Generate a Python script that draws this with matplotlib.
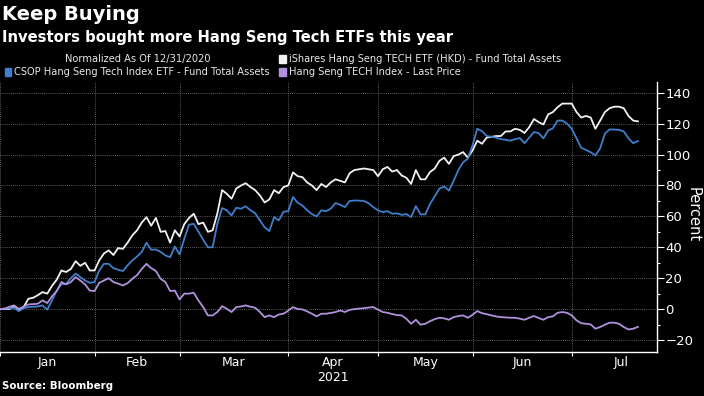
import numpy as np
import matplotlib.pyplot as plt
from matplotlib.patches import Rectangle

plt.rcParams['font.family'] = ['Liberation Sans Narrow', 'DejaVu Sans']

# x axis is in HK trading days since 12/31/2020
months = ['Jan', 'Feb', 'Mar', 'Apr\n2021', 'May', 'Jun', 'Jul']
month_start = [0, 20, 38, 61, 80, 100, 121, 142]

# iShares Hang Seng TECH ETF (HKD) - fund total assets, % change
ishares = [0, 0, 0, 2, 0, 1.3, 6.7, 7.3, 9, 11,
           10, 15, 19, 25, 24, 26, 31, 28, 30, 25,
           25, 31.5, 36, 38, 35, 39.5, 39, 43, 47.7, 51,
           56, 59.5, 54, 59, 50, 50.5, 43, 51, 47, 55,
           59, 61.7, 55, 56, 50, 51, 62, 77, 74.6, 71.4,
           78, 80, 81.5, 79, 77, 73.6, 69, 71, 77, 75,
           79, 80, 88.5, 86, 85.4, 82, 80, 77, 81, 79,
           82, 84, 83, 82, 88, 90, 90.5, 91, 90.5, 90,
           86, 90.5, 92, 89, 90, 86.5, 85, 81, 90, 84,
           84, 88.7, 91, 96, 98, 94, 99, 100, 101.6, 98,
           102.7, 109, 107, 111, 111.5, 112, 112, 115, 115, 116.7,
           116, 114, 117.8, 123, 121, 119.5, 126, 127.5, 130.7, 133,
           133, 133, 127.5, 124, 125, 124, 116.7, 122, 127.5, 130,
           131, 131, 130, 125, 122, 121.5]

# CSOP Hang Seng Tech Index ETF - fund total assets, % change
csop = [0, 0.3, 0.5, 0.6, -1.3, 0.6, 1.3, 1.5, 1.7, 2.4,
        -0.4, 5.6, 12, 16, 16.4, 20, 23, 20.7, 18.5, 17,
        17.5, 25, 29.3, 29.3, 26.5, 25.5, 24.6, 28.3, 31.5, 34,
        37, 43, 38.4, 38.6, 37, 34.7, 33.6, 40.5, 35.4, 45.5,
        54.6, 55.2, 50, 44.9, 40, 40, 55.2, 65.4, 63.9, 60.6,
        65.6, 65, 66.5, 64, 62, 57.4, 53, 50.5, 59.5, 57.4,
        63, 63.4, 72.5, 68.8, 67, 64, 61.5, 60, 63.9, 63.4,
        65, 68.6, 67.5, 66, 70, 70.3, 70.2, 70, 68.5, 66,
        63.9, 62.8, 63.4, 61.7, 62, 61, 61.5, 59.5, 66.7, 61.3,
        61.3, 68, 73, 78, 79.4, 76.7, 83, 90, 95, 97.3,
        106, 116.7, 115.2, 112, 111.5, 111, 110, 109.6, 109, 110,
        110.7, 107.4, 111, 114.6, 113.9, 110.5, 115.6, 117, 122, 122,
        120, 116.7, 110.5, 104.4, 103, 101.5, 99.5, 104, 113.5, 116.3,
        116.2, 116, 115, 110.5, 107.4, 108.7]

# Hang Seng TECH Index - last price, % change
hstech = [0, 0.3, 1.5, 2.4, -0.4, 1.7, 3, 3.2, 3.5, 5.6,
          3.9, 8.2, 11.7, 17.5, 16, 17.5, 20.7, 18.5, 16, 12,
          11.7, 17, 18.5, 20, 17.5, 16.5, 15.3, 16.8, 19.6, 22,
          26, 29.3, 26.5, 24.6, 19.6, 17.5, 11.7, 12, 6.3, 10,
          10, 10.6, 5.6, 1.3, -4.1, -4.1, -1.9, 1.9, 0.2, -1.9,
          1.3, 1.7, 2.4, 1.5, 0.9, -1.9, -5.2, -4.1, -5.2, -3.5,
          -3, -1, 1.3, 0, -0.2, -1.5, -3, -4.7, -3, -3,
          -2.5, -1.9, -0.9, -1.9, -0.5, 0, 0.3, 0.6, 1, 1.3,
          -0.4, -1.9, -2.4, -3.2, -3.9, -4.1, -6.3, -9.5, -6.9, -10.1,
          -9.5, -7.8, -6.5, -5.6, -6, -6.9, -5.2, -4.5, -4.1, -5.6,
          -3.7, -1.3, -2.6, -3.3, -4.1, -4.8, -5.2, -5.4, -5.6, -5.6,
          -6.2, -6.9, -5.6, -4.5, -5.8, -6.9, -5.2, -4.7, -2.4, -1.9,
          -2.4, -4.1, -7.3, -9.1, -9.5, -9.9, -12.7, -11.6, -10.1, -8.8,
          -8.8, -9.5, -11.6, -13.2, -12.7, -11.5]

days = np.arange(len(ishares))

fig = plt.figure(figsize=(7.04, 3.96), dpi=100, facecolor='black')
ax = fig.add_axes([0, 0.111, 0.933, 0.682])
ax.set_facecolor('black')

ax.plot(days, ishares, color='#f2f2f2', lw=1.3)
ax.plot(days, csop, color='#3f7fcb', lw=1.3)
ax.plot(days, hstech, color='#b192dc', lw=1.3)

ax.set_xlim(0, 139)
ax.set_ylim(-27.8, 147)

# month boundaries as ticks/grid, names centred in each month
ax.set_xticks(month_start[:-1])
ax.set_xticklabels([])
mids = [(a + b) / 2 for a, b in zip(month_start[:-1], month_start[1:])]
ax.set_xticks(mids, minor=True)
ax.set_xticklabels(months, minor=True)
ax.tick_params(axis='x', which='major', colors='white', length=3, width=0.8)
ax.tick_params(axis='x', which='minor', colors='white', length=0, labelsize=9, pad=3)

ax.yaxis.tick_right()
ax.set_yticks(range(-20, 141, 20))
ax.set_yticks(range(-20, 141, 10), minor=True)
ax.tick_params(axis='y', which='major', colors='white', length=5, width=0.8, labelsize=9.5, pad=1)
ax.tick_params(axis='y', which='minor', colors='white', length=2.5, width=0.8)

ax.grid(True, which='major', color='#7a7a7a', linestyle=(0, (1, 1.5)), linewidth=0.6)
for s in ['left', 'top']:
    ax.spines[s].set_visible(False)
for s in ['bottom', 'right']:
    ax.spines[s].set_color('white')
    ax.spines[s].set_linewidth(1)

fig.text(0.985, 0.457, 'Percent', color='white', fontsize=10.5, rotation=270,
         ha='center', va='center')

fig.text(0.003, 0.963, 'Keep Buying', color='white', fontsize=14, weight='bold', va='center')
fig.text(0.003, 0.905, 'Investors bought more Hang Seng Tech ETFs this year', color='white',
         fontsize=10.6, weight='bold', va='center')

# legend
leg_fs = 7.1
fig.text(0.092, 0.851, 'Normalized As Of 12/31/2020', color='#e8e8e8', fontsize=leg_fs, va='center')
items = [(0.397, 0.851, '#f2f2f2', 'iShares Hang Seng TECH ETF (HKD) - Fund Total Assets'),
         (0.007, 0.818, '#3f7fcb', 'CSOP Hang Seng Tech Index ETF - Fund Total Assets'),
         (0.397, 0.818, '#b192dc', 'Hang Seng TECH Index - Last Price')]
for x, y, c, label in items:
    fig.patches.append(Rectangle((x, y - 0.011), 0.009, 0.021, transform=fig.transFigure,
                                 color=c))
    fig.text(x + 0.013, y, label, color='#e8e8e8', fontsize=leg_fs, va='center')

fig.text(0.003, 0.025, 'Source: Bloomberg', color='white', fontsize=7.4, weight='bold', va='center')

fig.savefig('out.png', dpi=100, facecolor='black')
